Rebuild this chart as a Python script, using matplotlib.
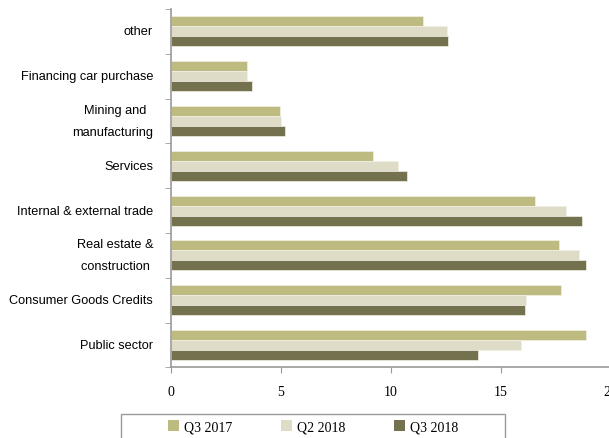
import numpy as np
import matplotlib; matplotlib.use("Agg"); import matplotlib.pyplot as plt
from matplotlib.patches import Patch, Rectangle

# sectors listed bottom -> top
sectors=["Public sector","Consumer Goods Credits","Real estate &\nconstruction ",
         "Internal & external trade","Services","Mining and  \nmanufacturing",
         "Financing car purchase","other"]
q3_2017=[18.86,17.73,17.65,16.57,9.18,4.97,3.47,11.45]
q2_2018=[15.91,16.15,18.56,17.95,10.32,5.03,3.47,12.55]
q3_2018=[13.98,16.09,18.86,18.68,10.74,5.21,3.71,12.60]
series=[("Q3 2017",q3_2017,"#bebb80"),("Q2 2018",q2_2018,"#dedcc7"),("Q3 2018",q3_2018,"#74714f")]

W,H=609,439
fig=plt.figure(figsize=(W/100,H/100),dpi=100)
ax=fig.add_axes([170.7/W,(H-368.3)/H,440/W,358.3/H])
y=np.arange(len(sectors)); bh=0.223
for i,(lab,v,c) in enumerate(series):
    # first series sits on top within each group
    ax.barh(y+(1-i)*bh,v,height=bh,color=c,edgecolor="#f2f1e6",linewidth=0.5,label=lab)
ax.set_xlim(0,20); ax.set_ylim(-0.5,len(sectors)-0.5)
ax.set_xticks([0,5,10,15,20])
ax.set_xticklabels(["0","5","10","15","20"],fontfamily="Liberation Serif",fontsize=10)
# category labels drawn as annotations, right-aligned left of the axis
ax.set_yticks([])
for yi,lab in zip(y,sectors):
    ax.annotate(lab,(0,yi),xycoords=("axes fraction","data"),xytext=(-12.7,0),textcoords="offset points",
                ha="right",va="center",multialignment="right",linespacing=2.1,
                fontfamily="Liberation Sans",fontsize=9.2,annotation_clip=False)
ax.set_yticks(np.arange(len(sectors)+1)-0.5,minor=True)
ax.tick_params(axis="y",which="minor",length=4,color="#9a9a9a",direction="out")
ax.tick_params(axis="x",length=4,color="#9a9a9a",pad=9)
for s in ("top","right"): ax.spines[s].set_visible(False)
for s in ("left","bottom"): ax.spines[s].set_color("#9a9a9a"); ax.spines[s].set_linewidth(1.2)
ax.spines["bottom"].set_clip_on(False)

# legend box runs off the bottom edge
fig.add_artist(Rectangle((121/W,-10/H),384/W,(H-415+10)/H,transform=fig.transFigure,
                         fill=False,edgecolor="#9a9a9a",linewidth=1))
hs=[Patch(facecolor=c,edgecolor="none") for _,_,c in series]
fig.legend(hs,[s[0] for s in series],loc="center left",bbox_to_anchor=(168/W,1-427.5/H),ncol=3,
           frameon=False,prop={"family":"Liberation Serif","size":10},handlelength=0.8,handleheight=0.8,
           handletextpad=0.35,columnspacing=3.5,borderpad=0,borderaxespad=0)
fig.savefig("out.png",dpi=100)
